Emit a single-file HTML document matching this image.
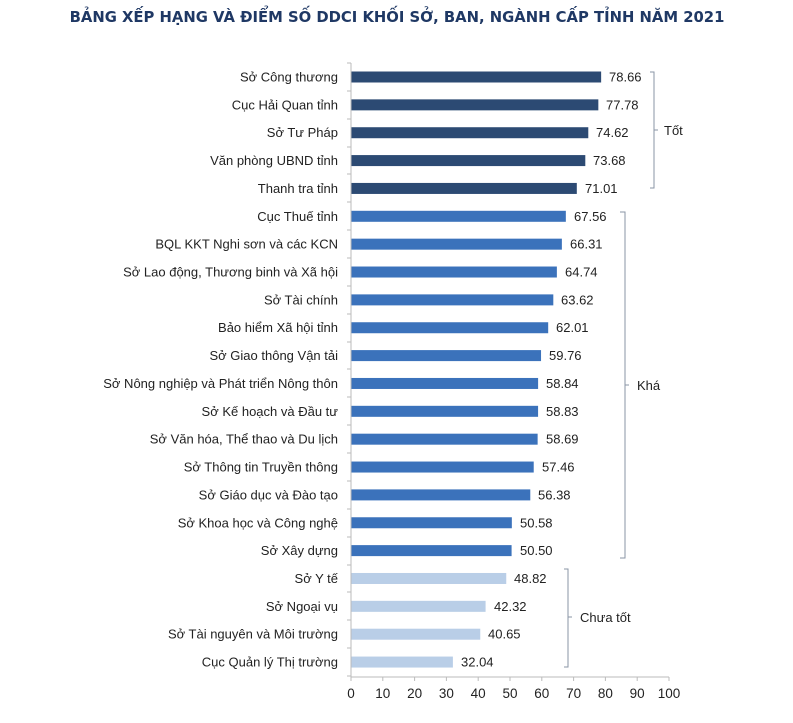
<!DOCTYPE html>
<html><head><meta charset="utf-8"><style>
body{margin:0;background:#fff;width:793px;height:718px;overflow:hidden}
</style></head><body>
<svg width="793" height="718" xmlns="http://www.w3.org/2000/svg" font-family="Liberation Sans, sans-serif">
<text x="397" y="22" text-anchor="middle" font-family="DejaVu Sans, sans-serif" font-weight="bold" font-size="14.8" fill="#1f3864">BẢNG XẾP HẠNG VÀ ĐIỂM SỐ DDCI KHỐI SỞ, BAN, NGÀNH CẤP TỈNH NĂM 2021</text>
<g fill="#2c4a73">
<rect x="351" y="71.5" width="250.14" height="11"/>
<rect x="351" y="99.36" width="247.34" height="11"/>
<rect x="351" y="127.22" width="237.29" height="11"/>
<rect x="351" y="155.08" width="234.3" height="11"/>
<rect x="351" y="182.94" width="225.81" height="11"/>
</g>
<g fill="#3b72bb">
<rect x="351" y="210.8" width="214.84" height="11"/>
<rect x="351" y="238.66" width="210.87" height="11"/>
<rect x="351" y="266.52" width="205.87" height="11"/>
<rect x="351" y="294.38" width="202.31" height="11"/>
<rect x="351" y="322.24" width="197.19" height="11"/>
<rect x="351" y="350.1" width="190.04" height="11"/>
<rect x="351" y="377.96" width="187.11" height="11"/>
<rect x="351" y="405.82" width="187.08" height="11"/>
<rect x="351" y="433.68" width="186.63" height="11"/>
<rect x="351" y="461.54" width="182.72" height="11"/>
<rect x="351" y="489.4" width="179.29" height="11"/>
<rect x="351" y="517.26" width="160.84" height="11"/>
<rect x="351" y="545.12" width="160.59" height="11"/>
</g>
<g fill="#b9cee7">
<rect x="351" y="572.98" width="155.25" height="11"/>
<rect x="351" y="600.84" width="134.58" height="11"/>
<rect x="351" y="628.7" width="129.27" height="11"/>
<rect x="351" y="656.56" width="101.89" height="11"/>
</g>
<g font-size="13" fill="#222" text-anchor="end">
<text x="338" y="81.5">Sở Công thương</text>
<text x="338" y="109.36">Cục Hải Quan tỉnh</text>
<text x="338" y="137.22">Sở Tư Pháp</text>
<text x="338" y="165.08">Văn phòng UBND tỉnh</text>
<text x="338" y="192.94">Thanh tra tỉnh</text>
<text x="338" y="220.8">Cục Thuế tỉnh</text>
<text x="338" y="248.66">BQL KKT Nghi sơn và các KCN</text>
<text x="338" y="276.52">Sở Lao động, Thương binh và Xã hội</text>
<text x="338" y="304.38">Sở Tài chính</text>
<text x="338" y="332.24">Bảo hiểm Xã hội tỉnh</text>
<text x="338" y="360.1">Sở Giao thông Vận tải</text>
<text x="338" y="387.96">Sở Nông nghiệp và Phát triển Nông thôn</text>
<text x="338" y="415.82">Sở Kế hoạch và Đầu tư</text>
<text x="338" y="443.68">Sở Văn hóa, Thể thao và Du lịch</text>
<text x="338" y="471.54">Sở Thông tin Truyền thông</text>
<text x="338" y="499.4">Sở Giáo dục và Đào tạo</text>
<text x="338" y="527.26">Sở Khoa học và Công nghệ</text>
<text x="338" y="555.12">Sở Xây dựng</text>
<text x="338" y="582.98">Sở Y tế</text>
<text x="338" y="610.84">Sở Ngoại vụ</text>
<text x="338" y="638.7">Sở Tài nguyên và Môi trường</text>
<text x="338" y="666.56">Cục Quản lý Thị trường</text>
</g>
<g font-size="13" fill="#222">
<text x="609" y="81.5">78.66</text>
<text x="606" y="109.36">77.78</text>
<text x="596" y="137.22">74.62</text>
<text x="593" y="165.08">73.68</text>
<text x="585" y="192.94">71.01</text>
<text x="574" y="220.8">67.56</text>
<text x="570" y="248.66">66.31</text>
<text x="565" y="276.52">64.74</text>
<text x="561" y="304.38">63.62</text>
<text x="556" y="332.24">62.01</text>
<text x="549" y="360.1">59.76</text>
<text x="546" y="387.96">58.84</text>
<text x="546" y="415.82">58.83</text>
<text x="546" y="443.68">58.69</text>
<text x="542" y="471.54">57.46</text>
<text x="538" y="499.4">56.38</text>
<text x="520" y="527.26">50.58</text>
<text x="520" y="555.12">50.50</text>
<text x="514" y="582.98">48.82</text>
<text x="494" y="610.84">42.32</text>
<text x="488" y="638.7">40.65</text>
<text x="461" y="666.56">32.04</text>
</g>
<line x1="351" y1="63" x2="351" y2="677" stroke="#bbb"/>
<line x1="351" y1="677" x2="669" y2="677" stroke="#bbb"/>
<path stroke="#bbb" d="M347 63H351M347 91H351M347 119H351M347 147H351M347 174H351M347 202H351M347 230H351M347 258H351M347 286H351M347 314H351M347 342H351M347 369H351M347 397H351M347 425H351M347 453H351M347 481H351M347 509H351M347 537H351M347 565H351M347 592H351M347 620H351M347 648H351M347 676H351
M351 677V681M382.8 677V681M414.6 677V681M446.4 677V681M478.2 677V681M510 677V681M541.8 677V681M573.6 677V681M605.4 677V681M637.2 677V681M669 677V681"/>
<g font-size="13.5" fill="#222" text-anchor="middle">
<text x="351" y="698">0</text><text x="382.8" y="698">10</text><text x="414.6" y="698">20</text><text x="446.4" y="698">30</text><text x="478.2" y="698">40</text><text x="510" y="698">50</text><text x="541.8" y="698">60</text><text x="573.6" y="698">70</text><text x="605.4" y="698">80</text><text x="637.2" y="698">90</text><text x="669" y="698">100</text>
</g>
<g fill="none" stroke="#8a94a6" stroke-width="1">
<path d="M650 72 H654 V188 H650 M654 130 H658"/>
<path d="M620 212 H625 V558 H620 M625 385 H629"/>
<path d="M564 569 H568 V667 H564 M568 617 H572"/>
</g>
<g font-size="13" fill="#222">
<text x="664" y="135">Tốt</text>
<text x="637" y="390">Khá</text>
<text x="580" y="622">Chưa tốt</text>
</g>
</svg>
</body></html>
